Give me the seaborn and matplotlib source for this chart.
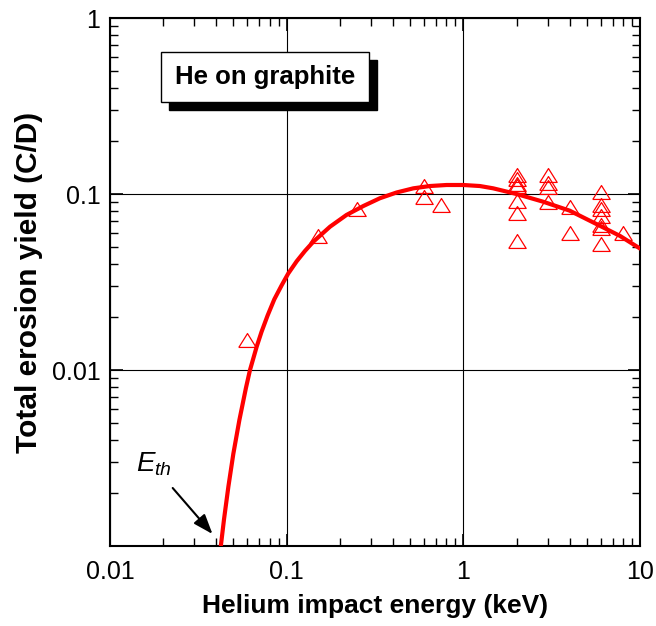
import numpy as np
import pandas as pd
import matplotlib
matplotlib.use("Agg")
import matplotlib.pyplot as plt
from matplotlib.patches import Rectangle
import seaborn as sns

# ---- data ----
energy_pts = [0.06, 0.15, 0.25, 0.6, 0.6, 0.75,
              2, 2, 2, 2, 2, 2, 2,
              3, 3, 3, 3,
              4, 4,
              6, 6, 6, 6, 6, 6, 6,
              8]
yield_pts = [0.0148, 0.058, 0.082, 0.111, 0.096, 0.087,
             0.128, 0.121, 0.114, 0.111, 0.091, 0.078, 0.054,
             0.128, 0.115, 0.110, 0.090,
             0.084, 0.060,
             0.102, 0.087, 0.082, 0.075, 0.067, 0.064, 0.052,
             0.060]

curve_energy = [0.0424, 0.0442, 0.0468, 0.0499, 0.054, 0.0588, 0.062, 0.0677,
                0.0721, 0.078, 0.0851, 0.0937, 0.102, 0.114, 0.127, 0.1416,
                0.176, 0.218, 0.272, 0.337, 0.419, 0.521, 0.647, 0.804, 1.0,
                1.24, 1.476, 2.0, 2.83, 4.0, 5.93, 7.7, 10.0]
curve_yield = [0.001, 0.00142, 0.00218, 0.00334, 0.0052, 0.0079, 0.01, 0.0136,
               0.0165, 0.0204, 0.0252, 0.0303, 0.0353, 0.0415, 0.0475, 0.0536,
               0.0652, 0.076, 0.0855, 0.0946, 0.102, 0.1077, 0.111, 0.1125, 0.1125,
               0.111, 0.1077, 0.100, 0.0904, 0.0804, 0.066, 0.0578, 0.049]

x_ticks = [0.01, 0.1, 1, 10]
x_ticklabels = ["0.01", "0.1", "1", "10"]
y_ticks = [0.01, 0.1, 1]
y_ticklabels = ["0.01", "0.1", "1"]

pts = pd.DataFrame({"energy": energy_pts, "yield": yield_pts})
curve = pd.DataFrame({"energy": curve_energy, "yield": curve_yield})

# ---- style ----
sns.set_style("ticks")
plt.rcParams["font.family"] = ["Liberation Sans", "DejaVu Sans"]
plt.rcParams["mathtext.fontset"] = "custom"
plt.rcParams["mathtext.rm"] = "Liberation Sans"
plt.rcParams["mathtext.it"] = "Liberation Sans:italic"
for k in ["text.color", "axes.labelcolor", "xtick.color", "ytick.color", "axes.edgecolor"]:
    plt.rcParams[k] = "black"

fig = plt.figure(figsize=(6.56, 6.26), dpi=100)
ax = fig.add_axes([110 / 656, 1 - 546 / 626, 530 / 656, 528 / 626])

ax.set_xscale("log")
ax.set_yscale("log")
ax.set_xlim(0.01, 10)
ax.set_ylim(0.001, 1)

sns.lineplot(data=curve, x="energy", y="yield", ax=ax, color="#ff0000",
             lw=3.0, estimator=None, sort=False, legend=False, zorder=3)

tri = [(-1, -0.8), (1, -0.8), (0, 0.8), (-1, -0.8)]
sns.lineplot(data=pts, x="energy", y="yield", ax=ax, estimator=None, sort=False,
             legend=False, linestyle="", marker=tri, markersize=12.5,
             markerfacecolor="none", markeredgecolor="#ff0000",
             markeredgewidth=0.9, color="#ff0000", zorder=4)

ax.set_xticks(x_ticks)
ax.set_xticklabels(x_ticklabels)
ax.set_yticks(y_ticks)
ax.set_yticklabels(y_ticklabels)
ax.xaxis.set_minor_locator(matplotlib.ticker.LogLocator(base=10, subs=np.arange(2, 10)))
ax.yaxis.set_minor_locator(matplotlib.ticker.LogLocator(base=10, subs=np.arange(2, 10)))
ax.xaxis.set_minor_formatter(matplotlib.ticker.NullFormatter())
ax.yaxis.set_minor_formatter(matplotlib.ticker.NullFormatter())

ax.tick_params(which="both", direction="in", top=True, right=True, color="black",
               labelcolor="black")
ax.tick_params(which="major", length=9, width=1.2, labelsize=18, pad=10)
ax.tick_params(which="minor", length=5.5, width=1.0)
ax.tick_params(axis="y", which="major", pad=7)

ax.grid(True, which="major", color="black", lw=0.8)
ax.set_axisbelow(True)
for s in ax.spines.values():
    s.set_linewidth(1.5)
    s.set_color("black")
    s.set_visible(True)

ax.set_xlabel("Helium impact energy (keV)", fontsize=19, fontweight="bold", labelpad=7)
ax.set_ylabel("Total erosion yield (C/D)", fontsize=21.5, fontweight="bold", labelpad=6)

# label box with shadow
bx0, bw = 51 / 530, 208 / 530
by0, bh = (546 - 102) / 528, 50 / 528
dx, dy = 8 / 530, -8 / 528
ax.add_patch(Rectangle((bx0 + dx, by0 + dy), bw, bh, transform=ax.transAxes,
                       facecolor="black", edgecolor="black", zorder=6))
ax.add_patch(Rectangle((bx0, by0), bw, bh, transform=ax.transAxes,
                       facecolor="white", edgecolor="black", lw=1.0, zorder=7))
ax.text(bx0 + bw / 2, by0 + bh / 2, "He on graphite", transform=ax.transAxes,
        ha="center", va="center", fontsize=18.5, fontweight="bold", zorder=8)

# threshold annotation
ax.annotate("", xy=((212.5 - 110) / 530, (546 - 534) / 528),
            xytext=((172.7 - 110) / 530, (546 - 488) / 528),
            xycoords="axes fraction", textcoords="axes fraction",
            arrowprops=dict(arrowstyle="-|>,head_length=0.6,head_width=0.22",
                            mutation_scale=20, color="black", lw=1.5,
                            shrinkA=0, shrinkB=0), zorder=5)
ax.text((136 - 110) / 530, (546 - 471) / 528, r"$E_{th}$", transform=ax.transAxes,
        ha="left", va="baseline", fontsize=20, zorder=5)

fig.savefig("out.png", dpi=100)
